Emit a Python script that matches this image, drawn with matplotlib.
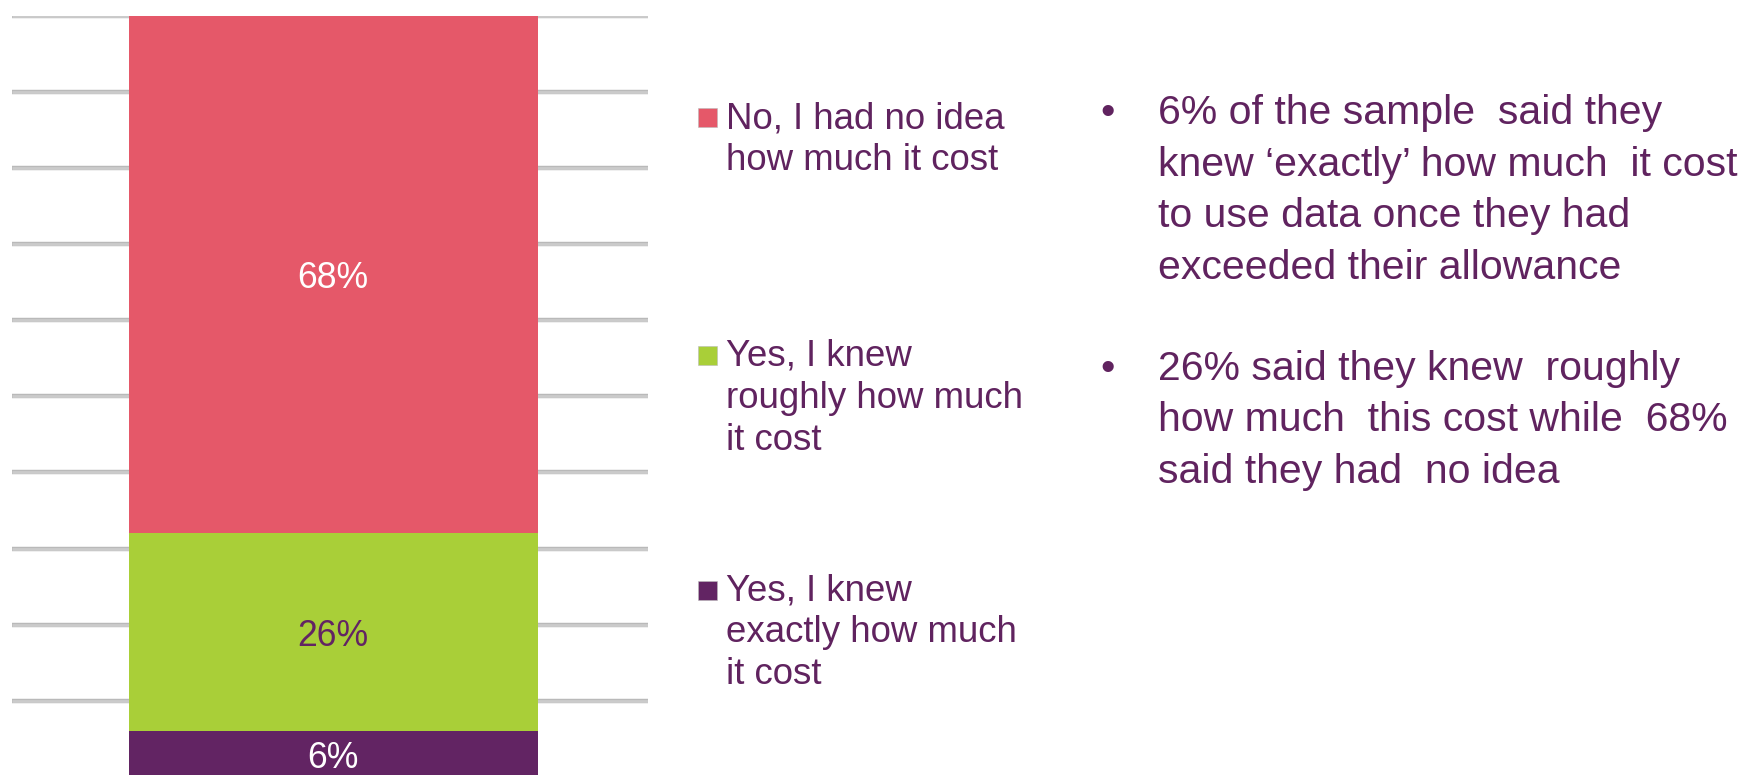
import matplotlib
matplotlib.use("Agg")
import matplotlib.pyplot as plt
import matplotlib.patheffects as pe
from matplotlib.patches import Rectangle

# Survey answers, stacked bottom to top
series = [
    "Yes, I knew\nexactly how much\nit cost",
    "Yes, I knew\nroughly how much\nit cost",
    "No, I had no idea\nhow much it cost",
]
values = [6, 26, 68]
colors = ["#622463", "#A9CF38", "#E55869"]
label_colors = ["white", "#622463", "white"]
value_labels = ["6%", "26%", "68%"]

grid_ticks = list(range(0, 101, 10))

bullet_points = [
    ["6% of the sample  said they",
     "knew \u2018exactly\u2019 how much  it cost",
     "to use data once they had",
     "exceeded their allowance"],
    ["26% said they knew  roughly",
     "how much  this cost while  68%",
     "said they had  no idea"],
]

TEXT = "#60235F"
FONT = ["Liberation Sans", "DejaVu Sans"]
W, H, DPI = 1752, 775, 100

fig = plt.figure(figsize=(W / DPI, H / DPI), dpi=DPI)
fig.patch.set_facecolor("white")


def fx(px):
    return px / W


def fy(py):
    return 1 - py / H


ax = fig.add_axes([fx(12), fy(777), fx(648) - fx(12), fy(15.6) - fy(777)])
ax.set_xlim(-0.505, 0.495)
ax.set_ylim(0, 100)
ax.axis("off")

# horizontal gridlines behind the column
for t in grid_ticks:
    ax.axhline(t, color="#CBCBCB", lw=2.0, zorder=0, solid_capstyle="butt",
               path_effects=[pe.Stroke(linewidth=3.2, foreground="#B9B9B9"), pe.Normal()])

bottom = 0
for v, c, lc, lab in zip(values, colors, label_colors, value_labels):
    ax.bar(0, v, bottom=bottom, width=0.643, color=c, edgecolor="none", zorder=2)
    ax.text(0, bottom + v / 2, lab, ha="center", va="center_baseline", color=lc,
            fontsize=25.7, family=FONT, zorder=3)
    bottom += v

# legend entries, top entry first
legend_tops = [128.3, 366, 600.5]
line_gap = 42
for (name, c), base in zip(list(zip(series, colors))[::-1], legend_tops):
    fig.patches.append(Rectangle((fx(697.5), fy(base - 1)), fx(19), 19 / H,
                                 transform=fig.transFigure, facecolor=c,
                                 edgecolor="#BBBBBB", lw=0.4))
    for i, line in enumerate(name.split("\n")):
        fig.text(fx(726), fy(base + i * line_gap), line, ha="left", va="baseline",
                 color=TEXT, fontsize=26.4, family=FONT)

# bullet commentary on the right
block_bases = [124, 379.5]
step = 51.7
for lines, base in zip(bullet_points, block_bases):
    fig.text(fx(1107.5), fy(base), "\u2022", ha="center", va="baseline",
             color=TEXT, fontsize=29.5, family=FONT)
    for i, line in enumerate(lines):
        fig.text(fx(1158), fy(base + i * step), line, ha="left", va="baseline",
                 color=TEXT, fontsize=29.5, family=FONT)

fig.savefig("out.png", dpi=DPI, facecolor="white")
